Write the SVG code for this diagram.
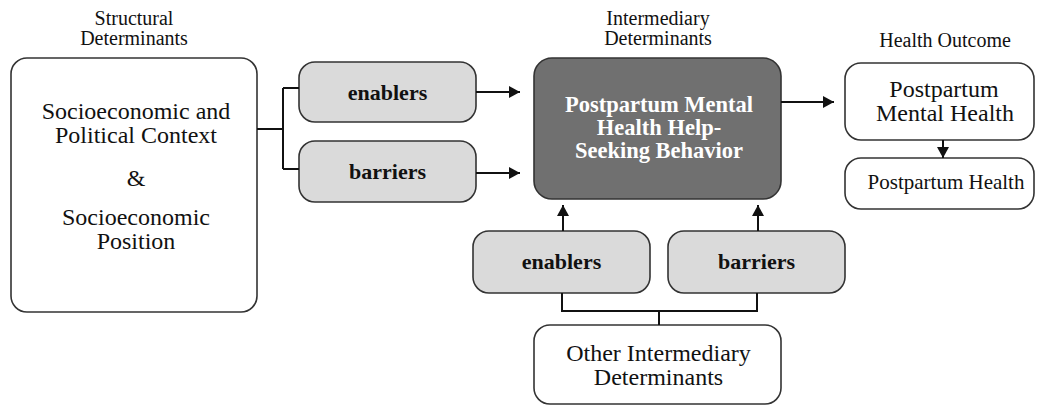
<svg xmlns="http://www.w3.org/2000/svg" width="1037" height="407" viewBox="0 0 1037 407">
<style>
text{font-family:"Liberation Serif","Times New Roman",serif;fill:#111;text-anchor:middle}
.hdr{font-size:20px}
.big{font-size:24px}
.lbl{font-size:22px;font-weight:bold}
.wt{font-size:22.5px;font-weight:bold;fill:#fff}
.wbox{fill:#fff;stroke:#333;stroke-width:1.6}
.gbox{fill:#dadada;stroke:#333;stroke-width:1.6}
.dbox{fill:#707070;stroke:#333;stroke-width:1.6}
.con{fill:none;stroke:#111;stroke-width:2}
</style>
<defs>
<marker id="ah" markerUnits="userSpaceOnUse" markerWidth="11" markerHeight="12" refX="11" refY="6" orient="auto">
<path d="M0,0 L11,6 L0,12 z" fill="#111"/>
</marker>
</defs>
<g id="headers">
<text class="hdr" x="134" y="25">Structural</text>
<text class="hdr" x="134" y="45">Determinants</text>
<text class="hdr" x="658" y="25">Intermediary</text>
<text class="hdr" x="658" y="45">Determinants</text>
<text class="hdr" x="945" y="47">Health Outcome</text>
</g>
<g id="structural">
<rect class="wbox" x="11" y="58" width="246" height="254" rx="16"/>
<text class="big" x="136" y="119">Socioeconomic and</text>
<text class="big" x="136" y="143">Political Context</text>
<text class="big" x="136" y="186">&amp;</text>
<text class="big" x="136" y="225">Socioeconomic</text>
<text class="big" x="136" y="249">Position</text>
</g>
<g id="enablers-top">
<rect class="gbox" x="299" y="62" width="177" height="60" rx="16"/>
<text class="lbl" x="387.5" y="99.5">enablers</text>
</g>
<g id="barriers-top">
<rect class="gbox" x="299" y="141" width="177" height="61" rx="16"/>
<text class="lbl" x="387.5" y="179">barriers</text>
</g>
<g id="behavior">
<rect class="dbox" x="534" y="58" width="247" height="141" rx="18"/>
<text class="wt" x="659" y="112">Postpartum Mental</text>
<text class="wt" x="659" y="135">Health Help-</text>
<text class="wt" x="659" y="158">Seeking Behavior</text>
</g>
<g id="enablers-bottom">
<rect class="gbox" x="473" y="231" width="177" height="62" rx="16"/>
<text class="lbl" x="561.5" y="269">enablers</text>
</g>
<g id="barriers-bottom">
<rect class="gbox" x="668" y="231" width="177" height="62" rx="16"/>
<text class="lbl" x="756.5" y="269">barriers</text>
</g>
<g id="other">
<rect class="wbox" x="534" y="325" width="247" height="79" rx="16"/>
<text class="big" x="658.5" y="361">Other Intermediary</text>
<text class="big" x="658.5" y="385">Determinants</text>
</g>
<g id="mental-health">
<rect class="wbox" x="845" y="63" width="189" height="77" rx="16"/>
<text class="big" x="944" y="97">Postpartum</text>
<text class="big" x="945" y="121">Mental Health</text>
</g>
<g id="health">
<rect class="wbox" x="845" y="158" width="189" height="51" rx="16"/>
<text style="font-size:21px" x="946" y="189">Postpartum Health</text>
</g>
<g id="connectors">
<path class="con" d="M257,129 H283 M283,88 V169 M283,88 H299 M283,169 H299"/>
<line class="con" x1="476" y1="92" x2="520" y2="92" marker-end="url(#ah)"/>
<line class="con" x1="476" y1="173" x2="520" y2="173" marker-end="url(#ah)"/>
<line class="con" x1="781" y1="102" x2="834" y2="102" marker-end="url(#ah)"/>
<line class="con" x1="943" y1="140" x2="943" y2="158" marker-end="url(#ah)"/>
<line class="con" x1="563" y1="231" x2="563" y2="205" marker-end="url(#ah)"/>
<line class="con" x1="758" y1="231" x2="758" y2="205" marker-end="url(#ah)"/>
<path class="con" d="M562,293 V311 H757 V293 M659,311 V325"/>
</g>
</svg>
